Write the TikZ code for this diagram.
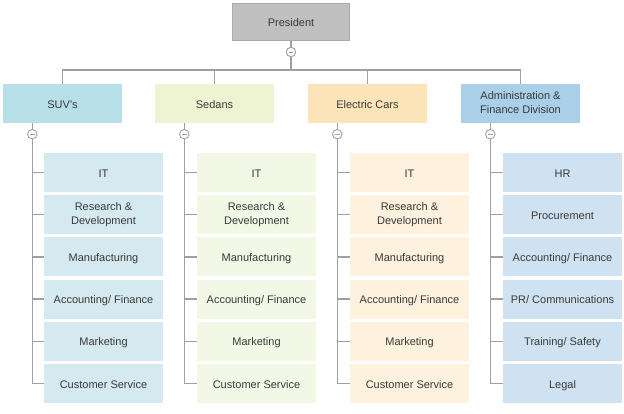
\documentclass[tikz,border=0pt]{standalone}
\usepackage{fontspec}
\setmainfont{Liberation Sans}
\definecolor{txt}{HTML}{3A3A3A}
\definecolor{ln}{HTML}{A0A0A0}
\definecolor{prescol}{HTML}{C0C0C0}
\definecolor{presbd}{HTML}{ABABAB}
\definecolor{hcol1}{HTML}{B6DFE8}
\definecolor{hcol2}{HTML}{EEF3D2}
\definecolor{hcol3}{HTML}{FDE3B8}
\definecolor{hcol4}{HTML}{A9CFE9}
\definecolor{ccol1}{HTML}{D5E9F0}
\definecolor{ccol2}{HTML}{F3F7E6}
\definecolor{ccol3}{HTML}{FEF1DD}
\definecolor{ccol4}{HTML}{CFE2F2}
\begin{document}
\begin{tikzpicture}[x=1pt,y=-1pt,
  box/.style={minimum width=119pt,minimum height=39pt,inner sep=1pt,align=center,
    font=\fontsize{11}{13.5}\selectfont,text=txt,
    execute at begin node={\rule{0pt}{11.5pt}},execute at end node={\vphantom{g}}},
  conn/.style={draw=ln,line width=1.4pt},
  tog/.style={circle,draw=ln,fill=white,line width=0.9pt,minimum size=9.5pt,inner sep=0pt,
    path picture={\draw[ln,line width=0.9pt]
      ([xshift=-2.4pt]path picture bounding box.center) --
      ([xshift=2.4pt]path picture bounding box.center);}}]
\useasboundingbox (0,0) rectangle (624,413);

% president and headers
\node[box,fill=prescol,draw=presbd,line width=0.6pt,minimum width=117pt,minimum height=37pt] (pres) at (291,22) {President};
\node[box,fill=hcol1] (h1) at (62.5,103.5) {SUV's};
\node[box,fill=hcol2] (h2) at (214.5,103.5) {Sedans};
\node[box,fill=hcol3] (h3) at (367.5,103.5) {Electric Cars};
\node[box,fill=hcol4] (h4) at (520.5,103.5) {Administration \&\\Finance Division};

% bus
\coordinate (bus) at (291,70);
\draw[conn] (pres.south) -- (bus);
\draw[conn] (h1.north) |- (bus) -| (h4.north);
\draw[conn] (h2.north) -- (h2.north |- bus);
\draw[conn] (h3.north) -- (h3.north |- bus);
\node[tog] (k0) at (291,52) {};

% children
\foreach \g in {1,2,3}{
  \foreach \lab [count=\i from 0] in {IT,{Research \&\\Development},Manufacturing,{Accounting/ Finance},Marketing,Customer Service}{
    \node[box,fill=ccol\g] (c\g-\i) at ({103.5+153*(\g-1)},{172.5+42.2*\i}) {\lab};
  }
}
\foreach \lab [count=\i from 0] in {HR,Procurement,{Accounting/ Finance},{PR/ Communications},{Training/ Safety},Legal}{
  \node[box,fill=ccol4] (c4-\i) at (562.5,{172.5+42.2*\i}) {\lab};
}

% trunks
\foreach \g in {1,2,3,4}{
  \coordinate (t\g) at ([xshift=29.5pt]h\g.south west);
  \draw[conn] (t\g) |- (c\g-5.west);
  \foreach \i in {0,...,4}{
    \draw[conn] (t\g |- c\g-\i.west) -- (c\g-\i.west);
  }
  \node[tog] (k\g) at ([yshift=-11pt]t\g) {};
}
\end{tikzpicture}
\end{document}
